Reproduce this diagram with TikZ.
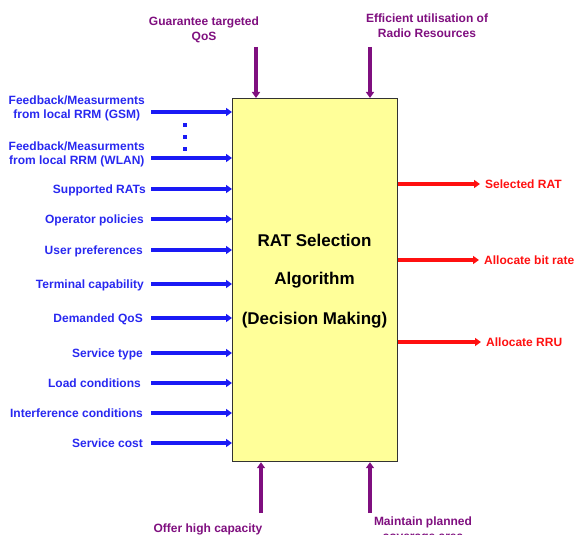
\documentclass[tikz,border=0pt]{standalone}
\usepackage{fontspec}
\setmainfont{Liberation Sans}
\usetikzlibrary{arrows.meta}
\definecolor{inblue}{HTML}{1A1AF5}
\definecolor{lblblue}{HTML}{2828F0}
\definecolor{purp}{HTML}{7F0F7F}
\definecolor{outred}{HTML}{FF1010}
\definecolor{boxfill}{HTML}{FFFF99}
\tikzset{
  lbl/.style={font=\bfseries\fontsize{12}{14}\selectfont, inner sep=0pt, text height=9pt, text depth=2.5pt},
  inlbl/.style={lbl, text=lblblue, anchor=east, align=center},
  outlbl/.style={lbl, text=outred, anchor=west},
  goallbl/.style={font=\bfseries\fontsize{12}{15}\selectfont, inner sep=0pt, text=purp, align=center},
  inarrow/.style={draw=inblue, line width=3.5pt, -{Triangle[length=6pt,width=8pt]}},
  outarrow/.style={draw=outred, line width=3.5pt, -{Triangle[length=6pt,width=8pt]}},
  goalarrow/.style={draw=purp, line width=3.5pt, -{Triangle[length=6pt,width=8pt]}},
  algbox/.style={draw=black!80, line width=1.2pt, fill=boxfill, inner sep=0pt},
  dotsq/.style={fill=inblue, minimum size=3.2pt, inner sep=0pt},
}
\begin{document}
\begin{tikzpicture}[x=1pt,y=-1pt]
\useasboundingbox (0,0) rectangle (574,535);
% main box
\node[algbox, minimum width=165pt, minimum height=363pt, anchor=north west] (box) at (232,98) {};
\node[font=\bfseries\fontsize{17}{20}\selectfont, inner sep=0pt] (t1) at (314.5,240) {RAT Selection};
\node[font=\bfseries\fontsize{17}{20}\selectfont, inner sep=0pt] (t2) at (314.5,280.5) {Algorithm};
\node[font=\bfseries\fontsize{17}{20}\selectfont, inner sep=0pt] (t3) at (314.5,320.5) {(Decision Making)};

% input labels
\node[inlbl, text height=, text depth=] (lgsm) at (145,108) {Feedback/Measurments\\from local RRM (GSM)};
\node[inlbl, text height=, text depth=] (lwlan) at (145,154.5) {Feedback/Measurments\\from local RRM (WLAN)};
\node[inlbl] (l1) at (146,190.5) {Supported RATs};
\node[inlbl] (l2) at (144,220.5) {Operator policies};
\node[inlbl] (l3) at (143,251.5) {User preferences};
\node[inlbl] (l4) at (144,285.5) {Terminal capability};
\node[inlbl] (l5) at (143,319.5) {Demanded QoS};
\node[inlbl] (l6) at (143,354.5) {Service type};
\node[inlbl] (l7) at (141,384.5) {Load conditions};
\node[inlbl] (l8) at (143,414.5) {Interference conditions};
\node[inlbl] (l9) at (143,444.5) {Service cost};

\coordinate (sgsm) at (151,112);
\coordinate (swlan) at (151,158);
\draw[inarrow] (sgsm) -- (box.west |- sgsm);
\draw[inarrow] (swlan) -- (box.west |- swlan);
\foreach \n in {1,...,9}{
  \draw[inarrow] ([yshift=1.5pt]l\n.east -| sgsm) -- ([yshift=1.5pt]box.west |- l\n.east);
}

% dots
\node[dotsq] (d1) at (185,125) {};
\node[dotsq] (d2) at (185,137) {};
\node[dotsq] (d3) at (185,149) {};

% outputs
\node[outlbl] (o1) at (485,185.5) {Selected RAT};
\node[outlbl] (o2) at (484,261.5) {Allocate bit rate};
\node[outlbl] (o3) at (486,343.5) {Allocate RRU};
\foreach \n in {1,2,3}{
  \draw[outarrow] ([yshift=1.5pt]box.east |- o\n.west) -- ([xshift=-5pt,yshift=1.5pt]o\n.west);
}

% goals top
\node[goallbl] (g1) at (204,29.5) {Guarantee targeted\\QoS};
\node[goallbl] (g2) at (427,25.5) {Efficient utilisation of\\Radio Resources};
\coordinate (g1s) at (256,47);
\coordinate (g2s) at (370,47);
\draw[goalarrow] (g1s) -- (g1s |- box.north);
\draw[goalarrow] (g2s) -- (g2s |- box.north);

% goals bottom
\node[goallbl, anchor=north] (g3) at (208,524) {Offer high capacity};
\node[goallbl, anchor=north] (g4) at (423,517) {Maintain planned\\coverage area};
\coordinate (g3s) at (261,513);
\coordinate (g4s) at (370,513);
\draw[goalarrow] (g3s) -- (g3s |- box.south);
\draw[goalarrow] (g4s) -- (g4s |- box.south);
\end{tikzpicture}
\end{document}
